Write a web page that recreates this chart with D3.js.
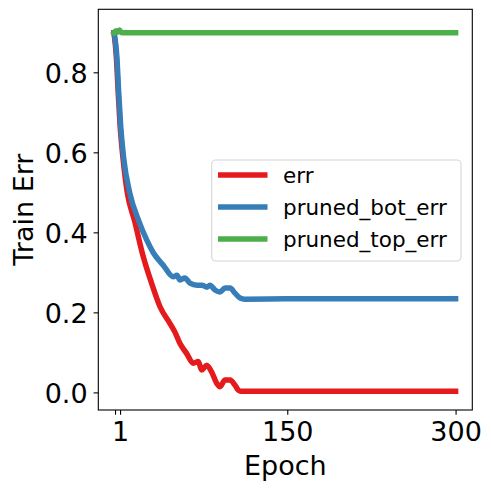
<!DOCTYPE html>
<html><head><meta charset="utf-8">
<script src="https://cdn.jsdelivr.net/npm/d3@7"></script>
<style>body{margin:0;background:#fff}svg{display:block}text{font-family:"DejaVu Sans",sans-serif;fill:#000}</style>
</head><body><svg id="c" width="491" height="491"></svg>
<script>
const seriesNames = ["err", "pruned_bot_err", "pruned_top_err"];
const seriesColors = ["#e41a1c", "#377eb8", "#4daf4a"];

const errEpochs = [-4.4, -2.3, -0.7, 1.0, 3.6, 7.4, 14, 21.7, 29.2, 36.6, 45.5, 50, 54.4, 60.4, 66.2, 70.7, 73.7, 78.2, 82.6, 87.1, 90, 94.5, 99, 103.4, 106.3, 108.7, 150, 200, 250, 300];
const errValues = [0.899, 0.838, 0.752, 0.668, 0.586, 0.500, 0.428, 0.339, 0.272, 0.214, 0.172, 0.150, 0.122, 0.097, 0.073, 0.077, 0.056, 0.068, 0.051, 0.023, 0.014, 0.031, 0.031, 0.018, 0.006, 0.003, 0.003, 0.003, 0.003, 0.003];

const botEpochs = [-4.4, -1.8, -0.25, 1.5, 4.2, 9.6, 17.5, 24.7, 30.6, 39.5, 48.4, 51.7, 54.4, 58.8, 63.3, 69.5, 74, 78.5, 81.1, 85.6, 90, 94.5, 99, 103.4, 107.9, 112.3, 150, 200, 250, 300];
const botValues = [0.899, 0.836, 0.751, 0.668, 0.586, 0.499, 0.430, 0.381, 0.349, 0.318, 0.289, 0.293, 0.281, 0.286, 0.273, 0.268, 0.268, 0.263, 0.268, 0.256, 0.251, 0.261, 0.261, 0.248, 0.236, 0.233, 0.234, 0.234, 0.234, 0.234];

const topEpochs = [-4.4, -2.5, -1.0, 0.5, 2.0, 4.0, 10, 100, 200, 300];
const topValues = [0.899, 0.904, 0.900, 0.906, 0.900, 0.899, 0.899, 0.899, 0.899, 0.899];

const xTicks = [-3.5, 1, 150, 300];
const xTickLabels = ["", "1", "150", "300"];
const yTicks = [0.0, 0.2, 0.4, 0.6, 0.8];
const yTickLabels = ["0.0", "0.2", "0.4", "0.6", "0.8"];

const svg = d3.select("#c");
const L = 98.3, R = 472.3, T = 9.3, B = 410;
const x = d3.scaleLinear().domain([-18.4, 314.9]).range([L, R]);
const y = d3.scaleLinear().domain([-0.044, 0.9575]).range([B, T]);

const series = [
  {e: errEpochs, v: errValues},
  {e: botEpochs, v: botValues},
  {e: topEpochs, v: topValues}
];
const line = d3.line().x(d => x(d[0])).y(d => y(d[1])).curve(d3.curveMonotoneX);
series.forEach((s, i) => {
  const pts = s.e.map((e, j) => [e, s.v[j]]);
  svg.append("path").attr("d", line(pts)).attr("fill", "none")
    .attr("stroke", seriesColors[i]).attr("stroke-width", 5.5)
    .attr("stroke-linejoin", "round").attr("stroke-linecap", "square");
});

// axes
const xAxis = d3.axisBottom(x).tickValues(xTicks).tickFormat((d, i) => xTickLabels[i]).tickSize(4.7).tickPadding(6);
const gx = svg.append("g").attr("transform", `translate(0,${B})`).call(xAxis);
gx.select(".domain").remove();
gx.selectAll("line").attr("stroke", "#000").attr("stroke-width", 1.1);
gx.selectAll("text").attr("font-size", 27).attr("font-family", "DejaVu Sans").attr("dy", "0.75em");

const yAxis = d3.axisLeft(y).tickValues(yTicks).tickFormat((d, i) => yTickLabels[i]).tickSize(4.7).tickPadding(6);
const gy = svg.append("g").attr("transform", `translate(${L},0)`).call(yAxis);
gy.select(".domain").remove();
gy.selectAll("line").attr("stroke", "#000").attr("stroke-width", 1.1);
gy.selectAll("text").attr("font-size", 27).attr("font-family", "DejaVu Sans").attr("dy", "0.36em");

svg.append("rect").attr("x", L).attr("y", T).attr("width", R - L).attr("height", B - T)
  .attr("fill", "none").attr("stroke", "#000").attr("stroke-width", 1.1);

svg.append("text").attr("x", (L + R) / 2).attr("y", 475).attr("text-anchor", "middle")
  .attr("font-size", 27).text("Epoch");
svg.append("text").attr("transform", `translate(33,${(T + B) / 2}) rotate(-90)`).attr("text-anchor", "middle")
  .attr("font-size", 27).text("Train Err");

// legend
const lg = svg.append("g");
lg.append("rect").attr("x", 211.7).attr("y", 160).attr("width", 249.3).attr("height", 101).attr("rx", 4)
  .attr("fill", "#fff").attr("fill-opacity", 0.8).attr("stroke", "#d6d6d6").attr("stroke-width", 1.1);
const rowY = [175, 207, 239];
seriesNames.forEach((n, i) => {
  lg.append("line").attr("x1", 218).attr("x2", 267.5).attr("y1", rowY[i]).attr("y2", rowY[i])
    .attr("stroke", seriesColors[i]).attr("stroke-width", 5.5);
  lg.append("text").attr("x", 283).attr("y", rowY[i]).attr("dy", "0.36em").attr("font-size", 21.5).text(n);
});
</script></body></html>
